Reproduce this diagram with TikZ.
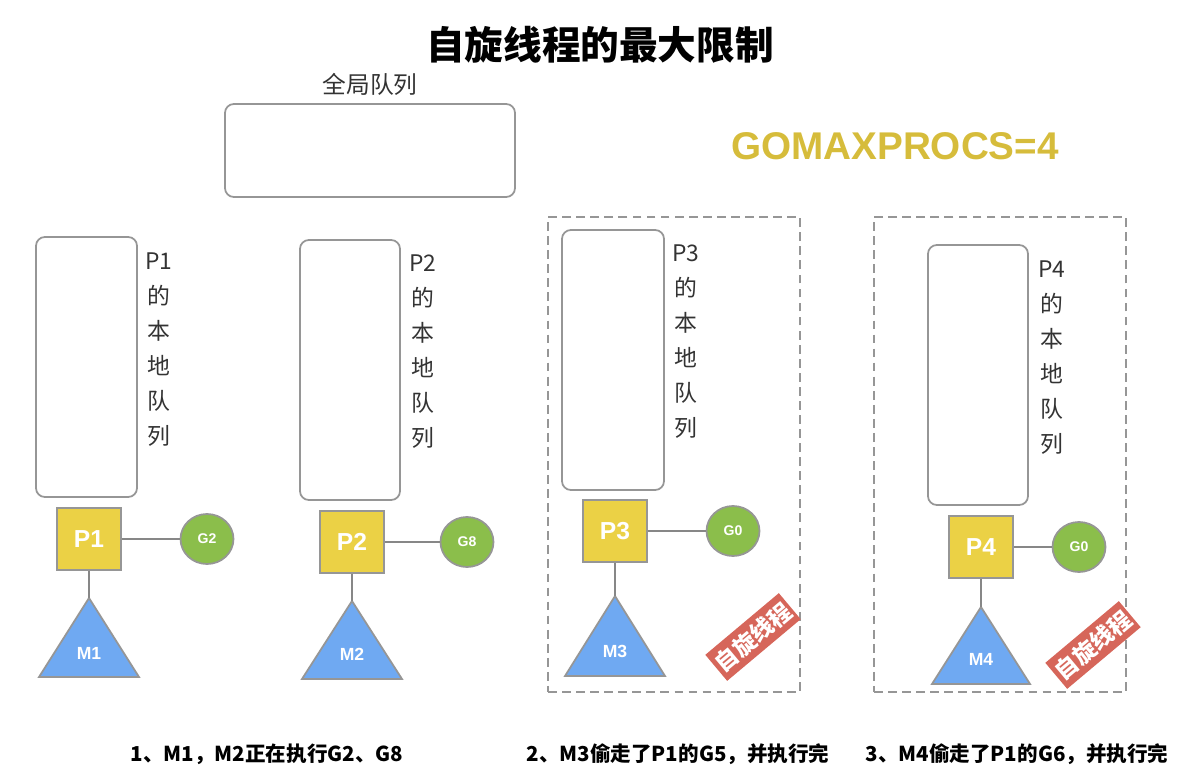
\documentclass[tikz,border=0pt]{standalone}
\usepackage{fontspec}
\setmainfont{Liberation Sans}
\newfontfamily\cjk{Noto Sans CJK SC}
\usepackage{xcolor}
\usepackage{tikz}
\usetikzlibrary{shapes.geometric, positioning}
\definecolor{pyellow}{RGB}{235, 209, 69}
\definecolor{ggreen}{RGB}{139, 190, 75}
\definecolor{mblue}{RGB}{111, 169, 242}
\definecolor{spinred}{RGB}{214, 102, 90}
\definecolor{gomaxgold}{RGB}{214, 188, 59}
\definecolor{edgegray}{RGB}{150, 150, 150}
\definecolor{labeltext}{RGB}{51, 51, 51}
\tikzset{
    queuebox/.style={draw=edgegray, line width=1pt, rounded corners=5pt, inner sep=0pt},
    pbox/.style={draw=edgegray, fill=pyellow, line width=1pt, minimum width=1.28cm, minimum height=1.24cm,
                 inner sep=0pt, text=white, font=\fontsize{14}{14}\selectfont\bfseries},
    gball/.style={ellipse, draw=edgegray, fill=ggreen, line width=1pt, minimum width=1.06cm, minimum height=1.0cm,
                  inner sep=0pt, text=white, font=\fontsize{8}{8}\selectfont\bfseries},
    mtri/.style={draw=edgegray, fill=mblue, line width=1pt, line join=miter},
    mtext/.style={text=white, font=\fontsize{10}{10}\selectfont\bfseries},
    link/.style={draw=edgegray!90!black, line width=1pt},
    spinarea/.style={draw=edgegray, dash pattern=on 5pt off 3pt, line width=1.1pt, inner sep=0pt},
    spinstamp/.style={fill=spinred, rotate=40, minimum width=1.92cm, minimum height=0.68cm, inner sep=0pt,
                      text=white, font=\cjk\fontsize{13}{13}\selectfont\bfseries},
    qlabel/.style={align=center, text=labeltext, font=\cjk\fontsize{13}{19.9}\selectfont},
    caption/.style={font=\cjk\fontsize{11.7}{11.7}\selectfont\bfseries},
}

\begin{document}
\begin{tikzpicture}[x=0.02cm, y=-0.02cm]
    \useasboundingbox (0,0) rectangle (1201,781);

    \node (title) at (600,45) {\cjk\fontsize{22}{22}\selectfont\bfseries 自旋线程的最大限制};
    \node[queuebox, minimum width=5.8cm, minimum height=1.86cm] (gq) at (370,150.5) {};
    \node[above=1pt of gq, text=labeltext, font=\cjk\fontsize{13.5}{13.5}\selectfont] (gqlabel) {全局队列};
    \node[text=gomaxgold, font=\fontsize{22}{22}\selectfont\bfseries] (gomax) at (895,146) {GOMAXPROCS=4};

    \node[spinarea, minimum width=5.04cm, minimum height=9.5cm] (area3) at (674,454.5) {};
    \node[spinarea, minimum width=5.04cm, minimum height=9.5cm] (area4) at (1000,454.5) {};

    \node[queuebox, minimum width=2.02cm, minimum height=5.2cm] (q1) at (86.5,367) {};
    \node[queuebox, minimum width=2.0cm, minimum height=5.2cm] (q2) at (350,370) {};
    \node[queuebox, minimum width=2.04cm, minimum height=5.2cm] (q3) at (613,360) {};
    \node[queuebox, minimum width=2.0cm, minimum height=5.2cm] (q4) at (978,375) {};

    \node[qlabel] (lq1) at (159,350) {P1\\的\\本\\地\\队\\列};
    \node[qlabel] (lq2) at (423,352) {P2\\的\\本\\地\\队\\列};
    \node[qlabel] (lq3) at (686,342) {P3\\的\\本\\地\\队\\列};
    \node[qlabel] (lq4) at (1052,358) {P4\\的\\本\\地\\队\\列};

    \node[pbox] (p1) at (89,539) {P1};
    \node[pbox] (p2) at (352,542) {P2};
    \node[pbox] (p3) at (615,531) {P3};
    \node[pbox] (p4) at (981,547) {P4};

    \node[gball] (g2) at (207,539) {G2};
    \node[gball] (g8) at (467,542) {G8};
    \node[gball] (g0a) at (733,531) {G0};
    \node[gball] (g0b) at (1079,547) {G0};

    \coordinate (m1top) at (89,598);
    \coordinate (m2top) at (352,601);
    \coordinate (m3top) at (615,596);
    \coordinate (m4top) at (981,607);
    \draw[mtri] (39,677) -- (m1top) -- (139,677) -- cycle;
    \draw[mtri] (302,679) -- (m2top) -- (402,679) -- cycle;
    \draw[mtri] (565,676) -- (m3top) -- (665,676) -- cycle;
    \draw[mtri] (932,684) -- (m4top) -- (1030,684) -- cycle;
    \node[mtext] (m1) at (89,653) {M1};
    \node[mtext] (m2) at (352,654) {M2};
    \node[mtext] (m3) at (615,651) {M3};
    \node[mtext] (m4) at (981,659) {M4};

    \draw[link] (p1) -- (g2);
    \draw[link] (p2) -- (g8);
    \draw[link] (p3) -- (g0a);
    \draw[link] (p4) -- (g0b);
    \draw[link] (p1.south) -- (m1top);
    \draw[link] (p2.south) -- (m2top);
    \draw[link] (p3.south) -- (m3top);
    \draw[link] (p4.south) -- (m4top);

    \node[spinstamp] (spin3) at (753,637) {自旋线程};
    \node[spinstamp] (spin4) at (1093,645) {自旋线程};

    \node[caption] (cap1) at (267,754) {1、M1，M2正在执行G2、G8};
    \node[caption] (cap2) at (678,754) {2、M3偷走了P1的G5，并执行完};
    \node[caption] (cap3) at (1017,754) {3、M4偷走了P1的G6，并执行完};
\end{tikzpicture}
\end{document}
